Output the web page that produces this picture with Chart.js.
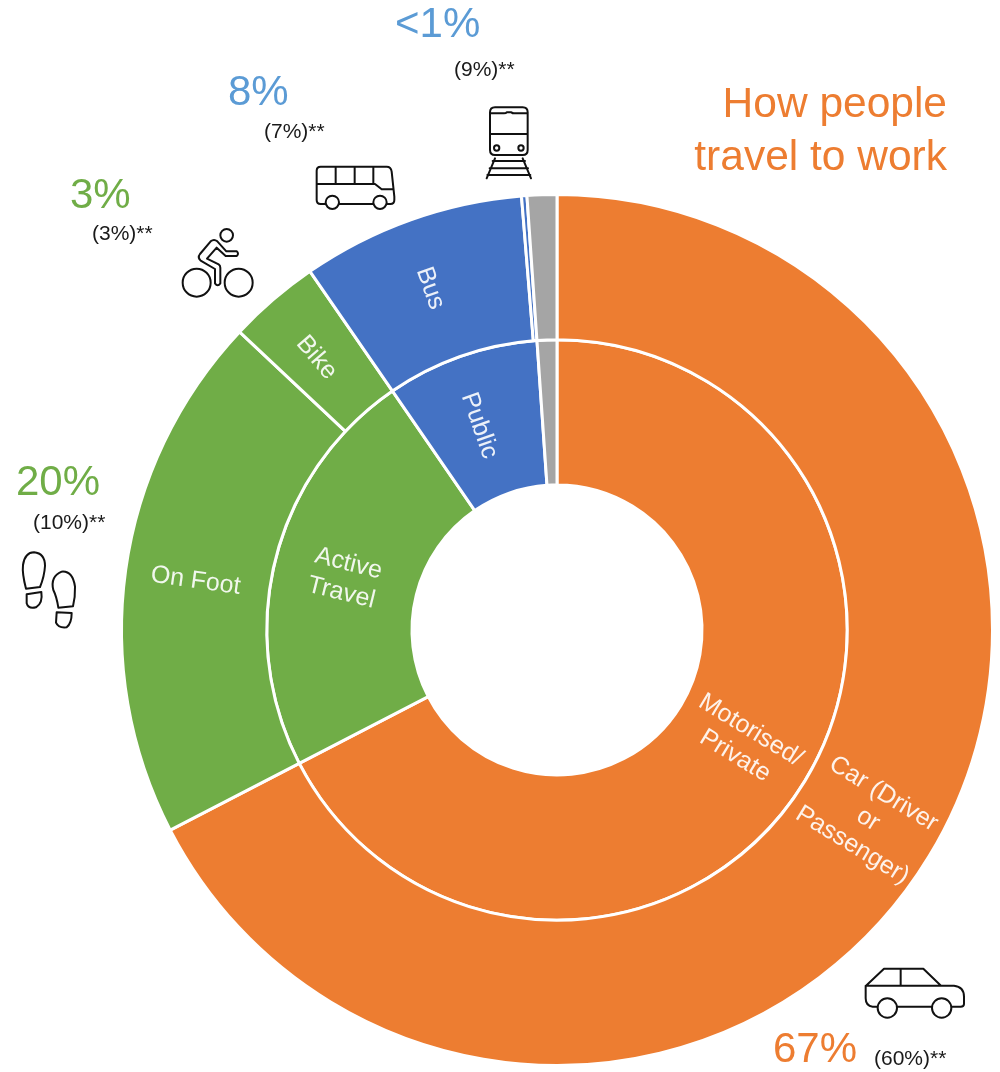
<!DOCTYPE html>
<html>
<head>
<meta charset="utf-8">
<title>How people travel to work</title>
<script src="https://cdn.jsdelivr.net/npm/chart.js@4"></script>
<style>
    html, body { margin: 0; padding: 0; background: #FFFFFF; }
    canvas { display: block; }
</style>
</head>
<body>
<canvas id="travelChart" width="1000" height="1072"></canvas>
<script>
// outer ring, clockwise from 12 o'clock
var modeLabels = [['Car (Driver', 'or', 'Passenger)'], ['On Foot'], ['Bike'], ['Bus'], [], []];
var modeValues = [67.4, 19.6, 3.4, 8.3, 0.2, 1.1];
var modeColors = ['#ED7D31', '#70AD47', '#70AD47', '#4472C4', '#4472C4', '#A5A5A5'];

// inner ring
var groupLabels = [['Motorised/', 'Private'], ['Active', 'Travel'], ['Public'], []];
var groupValues = [67.4, 23.0, 8.5, 1.1];
var groupColors = ['#ED7D31', '#70AD47', '#4472C4', '#A5A5A5'];

var titleLines = ['How people', 'travel to work'];
var shareLabels = ['67%', '20%', '3%', '8%', '<1%'];
var censusLabels = ['(60%)**', '(10%)**', '(3%)**', '(7%)**', '(9%)**'];

var ORANGE = '#ED7D31';
var GREEN = '#70AD47';
var LIGHT_BLUE = '#5B9BD5';

// small shifts of the ring names away from the exact segment centre
var modeNudge = [[1, 1], [-2, 1], [-4, 3], [-5, 0], [0, 0], [0, 0]];
var groupNudge = [[0, 0], [-1, 1], [-6, 1], [0, 0]];

// left / baseline of the annotations around the ring
var shareStyle = [
    { x: 773, y: 1062, color: ORANGE },
    { x: 16, y: 495, color: GREEN },
    { x: 70, y: 208, color: GREEN },
    { x: 228, y: 105, color: LIGHT_BLUE },
    { x: 395, y: 37, color: LIGHT_BLUE }
];
var censusStyle = [
    { x: 874, y: 1065 },
    { x: 33, y: 529 },
    { x: 92, y: 240 },
    { x: 264, y: 138 },
    { x: 454, y: 76 }
];

// line icons, traced in the 3x space of each crop: x, y is the crop origin
var icons = [
    { // train
        x: 380, y: 0,
        path: 'M345,322 H428 Q443,322 443,337 V450 Q443,465 428,465 H345 Q330,465 330,450 V337 Q330,322 345,322 Z' +
            'M330,402 H443 M330,340 H372 Q378,340 380,337 H394 Q398,340 402,340 H443' +
            'M358,444 A8,8 0 1 1 342,444 A8,8 0 1 1 358,444 M431,444 A8,8 0 1 1 415,444 A8,8 0 1 1 431,444' +
            'M345,475 L320,535 M428,475 L453,535 M338,483 H435 M329,505 H444 M322,525 H451'
    },
    { // bus
        x: 160, y: 60,
        path: 'M496,432 H482 Q470,432 470,420 V332 Q470,320 482,320 H680 Q693,320 695,335 L703,410 V420 Q703,432 691,432 H680' +
            'M540,432 H637 M472,372 H645 L665,388 H700 M527,320 V372 M584,320 V372 M640,320 V372' +
            'M537,427 A20,20 0 1 1 497,427 A20,20 0 1 1 537,427 M680,427 A20,20 0 1 1 640,427 A20,20 0 1 1 680,427'
    },
    { // cyclist
        x: 160, y: 60,
        path: 'M219,526 A19,19 0 1 1 181,526 A19,19 0 1 1 219,526' +
            'M152,668 A42,42 0 1 1 68,668 A42,42 0 1 1 152,668 M278,668 A42,42 0 1 1 194,668 A42,42 0 1 1 278,668' +
            'M230,574 Q238,581 230,588 H197 L170,563 L141,596 L176,613 Q181,616 181,623 V670 Q173,682 165,670 V627 L122,602 Q112,592 120,582 L152,544 Q162,536 172,544 L199,574 Z'
    },
    { // footprints
        x: 0, y: 440,
        path: 'M78,446 Q66,400 69,375 Q75,337 102,337 Q135,340 135,378 Q133,410 120,441 Z' +
            'M80,463 L124,456 Q129,490 108,502 Q85,508 80,490 Z' +
            'M175,503 Q170,470 160,450 Q150,410 185,395 Q218,392 225,440 Q226,470 219,499 Z' +
            'M170,517 L215,519 Q215,550 200,562 Q175,565 168,548 Z'
    },
    { // car
        x: 680, y: 680,
        path: 'M558,917 L612,866 H730 L783,917 M558,917 H822 Q852,920 852,950 V972 Q852,980 842,980 H816' +
            'M755,980 H654 M592,980 H578 Q557,978 557,955 V917 M662,866 V917' +
            'M651,984 A29,29 0 1 1 593,984 A29,29 0 1 1 651,984 M814,984 A29,29 0 1 1 756,984 A29,29 0 1 1 814,984'
    }
];

// writes the segment names along the radius of their own segment
var ringTextPlugin = {
    id: 'ringText',
    afterDatasetsDraw: function (chart) {
        var ctx = chart.ctx;
        ctx.save();
        ctx.font = '25px "Liberation Sans"';
        ctx.fillStyle = 'rgba(255, 255, 255, 0.9)';
        ctx.textAlign = 'center';
        ctx.textBaseline = 'middle';
        chart.data.datasets.forEach(function (dataset, d) {
            chart.getDatasetMeta(d).data.forEach(function (arc, i) {
                var lines = dataset.ringText[i];
                if (!lines.length) return;
                var p = arc.getCenterPoint();
                var mid = (arc.startAngle + arc.endAngle) / 2;
                var rot = p.x < arc.x ? mid + Math.PI : mid;
                ctx.save();
                ctx.translate(p.x + dataset.ringNudge[i][0], p.y + dataset.ringNudge[i][1]);
                ctx.rotate(rot);
                lines.forEach(function (line, n) {
                    ctx.fillText(line, 0, (n - (lines.length - 1) / 2) * 30);
                });
                ctx.restore();
            });
        });
        ctx.restore();
    }
};

var annotationPlugin = {
    id: 'annotations',
    afterDraw: function (chart) {
        var ctx = chart.ctx;
        ctx.save();
        ctx.textBaseline = 'alphabetic';

        ctx.font = '42.5px "Liberation Sans"';
        ctx.fillStyle = ORANGE;
        ctx.textAlign = 'right';
        ctx.fillText(titleLines[0], 947, 117);
        ctx.fillText(titleLines[1], 947, 170);

        ctx.textAlign = 'left';
        ctx.font = '42px "Liberation Sans"';
        shareLabels.forEach(function (text, i) {
            ctx.fillStyle = shareStyle[i].color;
            ctx.fillText(text, shareStyle[i].x, shareStyle[i].y);
        });

        ctx.font = '21px "Liberation Sans"';
        ctx.fillStyle = '#1A1A1A';
        censusLabels.forEach(function (text, i) {
            ctx.fillText(text, censusStyle[i].x, censusStyle[i].y);
        });

        ctx.strokeStyle = '#111111';
        ctx.lineJoin = 'round';
        ctx.lineCap = 'round';
        icons.forEach(function (icon) {
            ctx.save();
            ctx.translate(icon.x, icon.y);
            ctx.scale(1 / 3, 1 / 3);
            ctx.lineWidth = 6;
            ctx.stroke(new Path2D(icon.path));
            ctx.restore();
        });
        ctx.restore();
    }
};

var ctx = document.getElementById('travelChart').getContext('2d');

var myDoughnut = new Chart(ctx, {
    type: 'doughnut',
    data: {
        labels: modeLabels.map(function (l) { return l.join(' '); }),
        datasets: [
            {
                data: modeValues,
                backgroundColor: modeColors,
                ringText: modeLabels,
                ringNudge: modeNudge,
                borderColor: '#FFFFFF',
                borderWidth: 3
            },
            {
                data: groupValues,
                backgroundColor: groupColors,
                ringText: groupLabels,
                ringNudge: groupNudge,
                borderColor: '#FFFFFF',
                borderWidth: 3
            }
        ]
    },
    options: {
        responsive: false,
        animation: false,
        cutout: 145,
        layout: {
            padding: {
                left: 120,
                right: 6,
                top: 193,
                bottom: 5
            }
        },
        plugins: {
            legend: { display: false },
            title: { display: false },
            tooltip: { enabled: false }
        }
    },
    plugins: [ringTextPlugin, annotationPlugin]
});
</script>
</body>
</html>
